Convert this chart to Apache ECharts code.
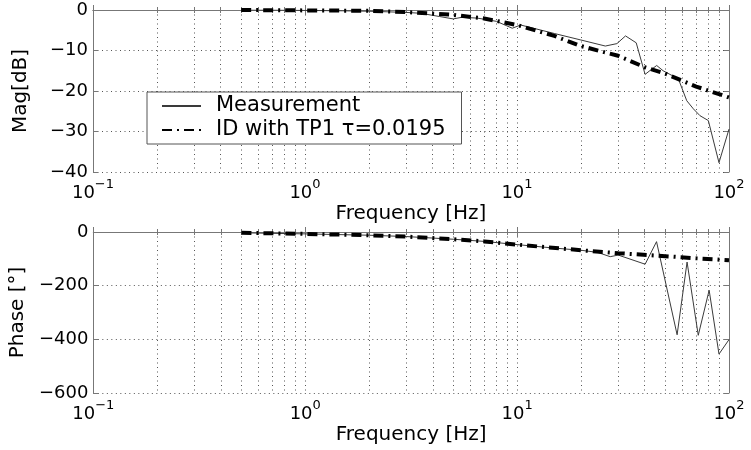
<!DOCTYPE html>
<html lang="en">
<head>
    <meta charset="UTF-8">
    <title>Bode</title>
    <script src="https://cdn.jsdelivr.net/npm/echarts@6/dist/echarts.min.js"></script>
</head>
<body style="margin:0;background:#fff;">
    <div id="chart" style="width: 751px; height: 450px;"></div>
    <script>
        // frequencies in Hz
        const measMagFreq = [0.5, 0.7, 1, 1.5, 2, 3, 3.5, 4.3, 5, 5.5, 6.5, 8, 9.5, 10.4, 15, 20, 26.1, 29.6, 32.5, 36.5, 40.2, 42.5, 45.6, 48.9, 57.7, 63.2, 67.9, 73, 79.9, 89.7, 100];
        const measMag = [0, 0, -0.1, -0.2, -0.3, -0.6, -0.8, -1.6, -2.2, -1.8, -2.0, -2.8, -4.5, -3.7, -5.8, -7.4, -8.9, -8.3, -6.4, -8.1, -15.9, -14.9, -13.7, -15.0, -17.0, -22.4, -24.4, -26.1, -27.3, -37.7, -29.4];

        const modelMagFreq = [0.5, 1, 2, 3, 5, 7, 10, 15, 20, 30, 40, 50, 70, 100];
        const modelMag = [0, -0.1, -0.2, -0.5, -1.2, -2.1, -3.7, -6.4, -8.9, -11.3, -14.1, -15.7, -18.9, -21.6];

        const measPhaseFreq = [0.5, 1, 2, 3, 5, 7, 10, 15, 20, 24, 27.5, 30, 40.2, 45.5, 56.9, 63.4, 71.6, 80.6, 89.7, 100];
        const measPhase = [-3, -7, -12, -17, -27, -35, -47, -60, -68, -76, -92, -86, -120, -36, -383, -112, -385, -217, -455, -401];

        const modelPhaseFreq = [0.5, 1, 2, 3, 5, 7, 10, 20, 30, 50, 70, 100];
        const modelPhase = [-3, -7, -12, -17, -27, -35, -47, -68, -79, -90, -98, -105];

        const seriesNames = ['Measurement', 'ID with TP1 \u03c4=0.0195'];

        const font = 'DejaVu Sans';
        const gridColor = '#555';
        const boxColor = '#777';

        function pairs(xs, ys) {
            return xs.map((x, i) => [x, ys[i]]);
        }

        function logLabel(v) {
            const e = Math.round(Math.log10(v));
            return '{b|10}{e|' + String(e).replace('-', '\u2212') + '}';
        }

        function freqAxis(grid) {
            return {
                type: 'log', logBase: 10, min: 0.1, max: 100, gridIndex: grid,
                name: 'Frequency [Hz]', nameLocation: 'middle', nameGap: 32,
                nameTextStyle: { fontFamily: font, fontSize: 20, color: '#000' },
                axisLine: { lineStyle: { color: boxColor } },
                axisTick: { inside: true, length: 5, lineStyle: { color: boxColor } },
                minorTick: { show: true, splitNumber: 9, length: 3, lineStyle: { color: boxColor } },
                axisLabel: {
                    formatter: logLabel, margin: 6,
                    rich: {
                        b: { fontFamily: font, fontSize: 18, color: '#000', verticalAlign: 'bottom' },
                        e: { fontFamily: font, fontSize: 13, color: '#000', verticalAlign: 'bottom', padding: [0, 0, 11, 0] }
                    }
                },
                splitLine: { show: true, lineStyle: { color: gridColor, type: [1, 3.5] } },
                minorSplitLine: { show: true, lineStyle: { color: gridColor, type: [1, 3.5] } }
            };
        }

        function freqAxisTop(grid) {
            return {
                type: 'log', logBase: 10, min: 0.1, max: 100, gridIndex: grid, position: 'top',
                axisLine: { lineStyle: { color: boxColor } },
                axisTick: { inside: true, length: 5, lineStyle: { color: boxColor } },
                minorTick: { show: true, splitNumber: 9, length: 3, lineStyle: { color: boxColor } },
                axisLabel: { show: false },
                splitLine: { show: false }
            };
        }

        function valueAxis(grid, name, min, interval) {
            return {
                type: 'value', min: min, max: 0, interval: interval, gridIndex: grid,
                name: name, nameLocation: 'middle', nameGap: 62,
                nameTextStyle: { fontFamily: font, fontSize: 20, color: '#000' },
                axisLine: { show: true, lineStyle: { color: boxColor } },
                axisTick: { show: true, inside: true, length: 5, lineStyle: { color: boxColor } },
                axisLabel: {
                    fontFamily: font, fontSize: 18, color: '#000', margin: 5,
                    formatter: v => String(v).replace('-', '\u2212')
                },
                splitLine: { show: true, lineStyle: { color: gridColor, type: [1, 3.5] } }
            };
        }

        function valueAxisRight(grid, min, interval) {
            return {
                type: 'value', min: min, max: 0, interval: interval, gridIndex: grid, position: 'right',
                axisLine: { show: true, lineStyle: { color: boxColor } },
                axisTick: { show: true, inside: true, length: 5, lineStyle: { color: boxColor } },
                axisLabel: { show: false },
                splitLine: { show: false }
            };
        }

        const measStyle = { color: '#3a3a3a', width: 1 };
        const modelStyle = { color: '#000', width: 4, type: [10, 5, 2, 5], cap: 'butt' };

        const myChart = echarts.init(document.getElementById('chart'));
        const option = {
            animation: false,
            backgroundColor: '#fff',
            grid: [
                { left: 93, right: 22, top: 10, height: 162 },
                { left: 93, right: 22, top: 232, height: 161 }
            ],
            xAxis: [freqAxis(0), freqAxisTop(0), freqAxis(1), freqAxisTop(1)],
            yAxis: [
                valueAxis(0, 'Mag[dB]', -40, 10), valueAxisRight(0, -40, 10),
                valueAxis(1, 'Phase [\u00b0]', -600, 200), valueAxisRight(1, -600, 200)
            ],
            legend: {
                orient: 'vertical', left: 147, top: 92,
                padding: [3, 16, 3, 14],
                itemWidth: 39, itemHeight: 14, itemGap: 2,
                itemStyle: { opacity: 0 },
                backgroundColor: '#fff', borderColor: '#555', borderWidth: 1,
                textStyle: { fontFamily: font, fontSize: 21, color: '#000', lineHeight: 22, padding: [0, 0, 0, 10] },
                data: seriesNames
            },
            series: [
                { name: seriesNames[0], type: 'line', xAxisIndex: 0, yAxisIndex: 0, showSymbol: false, lineStyle: measStyle, itemStyle: { color: measStyle.color }, data: pairs(measMagFreq, measMag) },
                { name: seriesNames[1], type: 'line', xAxisIndex: 0, yAxisIndex: 0, showSymbol: false, lineStyle: modelStyle, itemStyle: { color: '#000' }, data: pairs(modelMagFreq, modelMag) },
                { name: seriesNames[0], type: 'line', xAxisIndex: 2, yAxisIndex: 2, showSymbol: false, lineStyle: measStyle, itemStyle: { color: measStyle.color }, data: pairs(measPhaseFreq, measPhase) },
                { name: seriesNames[1], type: 'line', xAxisIndex: 2, yAxisIndex: 2, showSymbol: false, lineStyle: modelStyle, itemStyle: { color: '#000' }, data: pairs(modelPhaseFreq, modelPhase) }
            ]
        };
        myChart.setOption(option);
    </script>
</body>
</html>
